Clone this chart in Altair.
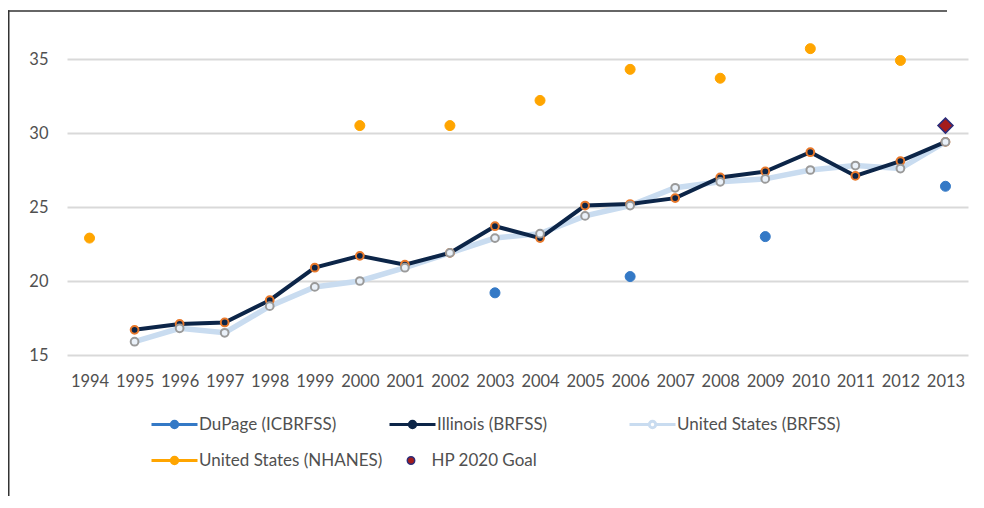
import altair as alt
import pandas as pd

# ---- data ----
years = list(range(1994, 2014))
illinois = [None, 16.7, 17.1, 17.2, 18.7, 20.9, 21.7, 21.1, 21.9, 23.7,
            22.9, 25.1, 25.2, 25.6, 27.0, 27.4, 28.7, 27.1, 28.1, 29.4]
us_brfss = [None, 15.9, 16.8, 16.5, 18.3, 19.6, 20.0, 20.9, 21.9, 22.9,
            23.2, 24.4, 25.1, 26.3, 26.7, 26.9, 27.5, 27.8, 27.6, 29.4]
dupage_years = [2003, 2006, 2009, 2013]
dupage = [19.2, 20.3, 23.0, 26.4]
nhanes_years = [1994, 2000, 2002, 2004, 2006, 2008, 2010, 2012]
nhanes = [22.9, 30.5, 30.5, 32.2, 34.3, 33.7, 35.7, 34.9]
goal_years = [2013]
goal = [30.5]
y_ticks = [15, 20, 25, 30, 35]

names = ["DuPage (ICBRFSS)", "Illinois (BRFSS)", "United States (BRFSS)",
         "United States (NHANES)", "HP 2020 Goal"]


def table(ys, vs, name):
    return pd.DataFrame({"year": ys, "value": vs, "series": name}).dropna()


df_dup = table(dupage_years, dupage, names[0])
df_il = table(years, illinois, names[1])
df_us = table(years, us_brfss, names[2])
df_nh = table(nhanes_years, nhanes, names[3])
df_goal = table(goal_years, goal, names[4])

FONT = "Lato"
LABEL = "#505050"

x_enc = alt.X("year:O", scale=alt.Scale(domain=years, type="point", padding=0.5),
              axis=alt.Axis(title=None, labelAngle=0, ticks=False, domain=False, grid=False,
                            labelPadding=18, labelFont=FONT, labelFontSize=16.5,
                            labelColor=LABEL))
y_enc = alt.Y("value:Q", scale=alt.Scale(domain=[15, 35], nice=False, zero=False),
              axis=alt.Axis(title=None, values=y_ticks, ticks=False, domain=False,
                            gridColor="#d9d9d9", gridWidth=2, labelPadding=19,
                            labelFont=FONT, labelFontSize=16.5, labelColor=LABEL))

R = 0.14
LINE_DOT = (f"M-1,0L-{R},0M{R},0L1,0M{R},0A{R},{R},0,1,1,-{R},0"
            f"A{R},{R},0,1,1,{R},0Z")


def legend(lx, ly, stype=LINE_DOT, size=2116, sw=3, fillc=None, offset=0):
    kw = dict(title=None, orient="none", legendX=lx, legendY=ly, symbolType=stype,
              symbolSize=size, symbolStrokeWidth=sw, labelFont=FONT,
              labelFontSize=17, labelColor=LABEL, labelOffset=offset, labelLimit=400)
    if fillc is not None:
        kw["symbolFillColor"] = fillc
    return alt.Legend(**kw)


def color(name, col, leg):
    return alt.Color("series:N", scale=alt.Scale(domain=[name], range=[col]), legend=leg)


BLUE = "#3479c6"
NAVY = "#0c2548"
ORANGE_RING = "#e8782a"
LIGHT = "#c9dcf0"
NH = "#ffa500"
GOAL_FILL = "#a51c1c"
GOAL_STROKE = "#2b2d7a"

ROW1 = 341
ROW2 = 377

one = pd.DataFrame({"k": [0]})
frame_left = alt.Chart(one).mark_rule(color="#333333", strokeWidth=1.5).encode(
    x=alt.value(-58.25), y=alt.value(-48.75), y2=alt.value(1000))
frame_top = alt.Chart(one).mark_rule(color="#333333", strokeWidth=1.5).encode(
    x=alt.value(-59), x2=alt.value(880), y=alt.value(-48), y2=alt.value(-48))

us_line = alt.Chart(df_us).mark_line(strokeWidth=5.5).encode(
    x=x_enc, y=y_enc,
    color=color(names[2], LIGHT, legend(561, ROW1, fillc="#ffffff")))

il_line = alt.Chart(df_il).mark_line(strokeWidth=4).encode(
    x=x_enc, y=y_enc,
    color=color(names[1], NAVY, legend(321, ROW1, fillc=NAVY)))

il_pts = alt.Chart(df_il).mark_point(filled=True, size=60, fill=NAVY, stroke=ORANGE_RING,
                                     strokeWidth=2, opacity=1).encode(x=x_enc, y=y_enc)

us_pts = alt.Chart(df_us).mark_point(filled=True, size=60, fill="#eaf1f9", stroke="#9a9a9a",
                                     strokeWidth=2, opacity=1).encode(x=x_enc, y=y_enc)

dup_pts = alt.Chart(df_dup).mark_point(filled=True, size=100, stroke=BLUE, strokeWidth=1,
                                       opacity=1).encode(
    x=x_enc, y=y_enc, color=color(names[0], BLUE, legend(83, ROW1)))

nh_pts = alt.Chart(df_nh).mark_point(filled=True, size=100, stroke=NH, strokeWidth=1,
                                     opacity=1).encode(
    x=x_enc, y=y_enc, color=color(names[3], NH, legend(83, ROW2)))

goal_pts = alt.Chart(df_goal).mark_point(filled=True, shape="diamond", size=225,
                                         stroke=GOAL_STROKE, strokeWidth=1.5,
                                         opacity=1).encode(
    x=x_enc, y=y_enc,
    color=color(names[4], GOAL_FILL,
                legend(335.5, ROW2 + 16, stype="circle", size=55, sw=1.5, offset=12)))

chart = alt.layer(
    frame_left, frame_top, us_line, il_line, il_pts, us_pts, dup_pts, nh_pts, goal_pts
).resolve_scale(color="independent").resolve_legend(color="independent").properties(
    width=901, height=296,
    autosize=alt.AutoSizeParams(type="none"),
    padding={"left": 59, "top": 51, "right": 8, "bottom": 141},
).configure_view(stroke=None)

chart.save("out.html", embed_options={"renderer": "svg", "actions": False})
